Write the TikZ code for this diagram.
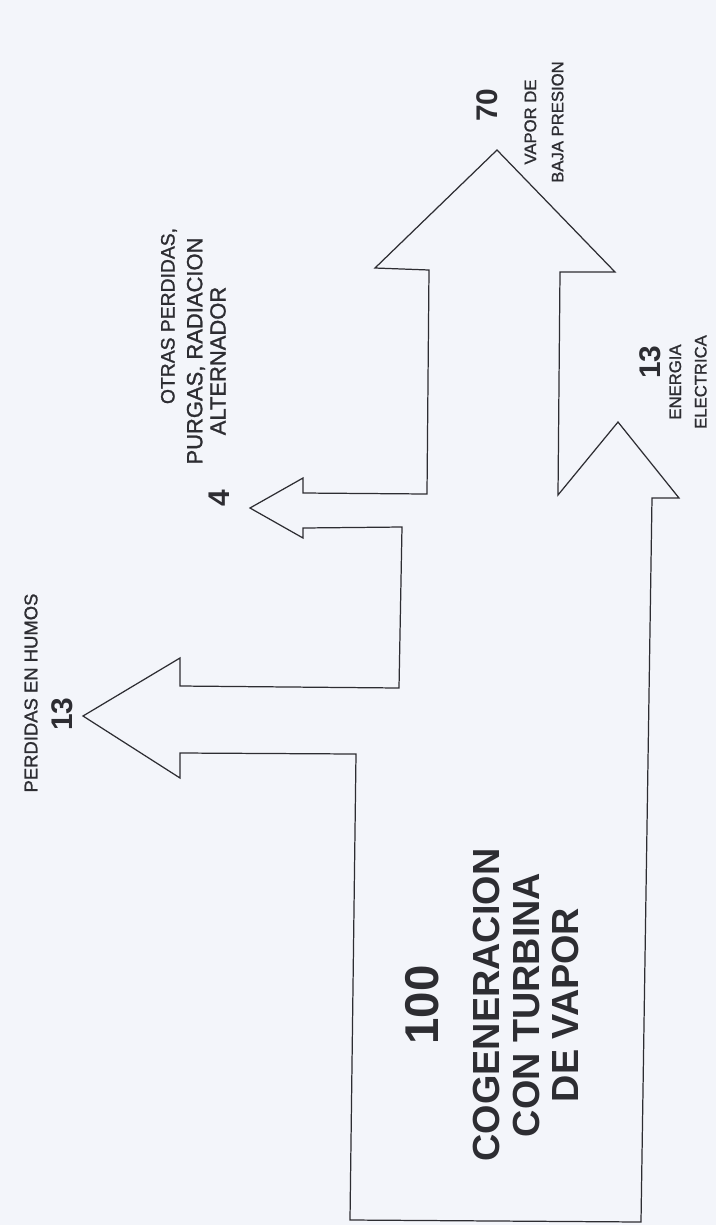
\documentclass[tikz,border=0pt]{standalone}
\usepackage{fontspec}
\setmainfont{Liberation Sans}
\newfontfamily\medfont[FakeBold=1.2]{Liberation Sans}
\definecolor{paper}{RGB}{243,245,250}
\definecolor{ink}{RGB}{45,45,50}
\begin{document}
\begin{tikzpicture}[x=0.02cm,y=-0.02cm,
    txt/.style={rotate=90,align=center,inner sep=0pt,text=ink},
    numtxt/.style={rotate=90,inner sep=0pt,text=ink,font=\fontsize{17}{20}\selectfont\bfseries},
    bigtxt/.style={rotate=90,align=center,inner sep=0pt,text=ink,font=\fontsize{21.5}{22.5}\selectfont\bfseries}]
  \fill[paper] (0,0) rectangle (716,1225);
  \useasboundingbox (0,0) rectangle (716,1225);
  % outline of the flows
  \draw[ink,line width=0.7pt,line join=miter]
    (350,1220) -- (356,754) -- (180,753) -- (180,778) -- (83,716) -- (180,658) -- (180,686)
    -- (399,688) -- (402,527) -- (303,528) -- (303,538) -- (250,508) -- (303,478) -- (303,493)
    -- (427,494) -- (429,270) -- (375,268) -- (497,150) -- (615,272) -- (560,272)
    -- (558,495) -- (618,422) -- (679,498) -- (652,498) -- (641,1222) -- cycle;
  % labels
  \node[txt,font=\fontsize{10.5}{12}\medfont] (humos) at (31,693) {PERDIDAS EN HUMOS};
  \node[numtxt] (nhumos) at (62,714) {13};
  \node[txt,font=\fontsize{11}{12}\medfont] (otras1) at (169,316) {OTRAS PERDIDAS,};
  \node[txt,font=\fontsize{12.5}{13}\medfont] (otras2) at (196,351) {PURGAS, RADIACION};
  \node[txt,font=\fontsize{12.5}{13}\medfont] (otras3) at (218,361) {ALTERNADOR};
  \node[numtxt] (notras) at (219,498) {4};
  \node[numtxt] (nvapor) at (487,105) {70};
  \node[txt,font=\fontsize{9.5}{15.5}\medfont] (vapor) at (544,122) {VAPOR DE\\BAJA PRESION};
  \node[numtxt] (nelec) at (650,362) {13};
  \node[txt,font=\fontsize{9.5}{14.5}\medfont] (elec) at (688,382) {ENERGIA\\ELECTRICA};
  \node[numtxt,font=\fontsize{27}{30}\selectfont\bfseries] (ntotal) at (422,1005) {100};
  \node[bigtxt] (total) at (526,1005) {COGENERACION\\CON TURBINA\\DE VAPOR};
\end{tikzpicture}
\end{document}
